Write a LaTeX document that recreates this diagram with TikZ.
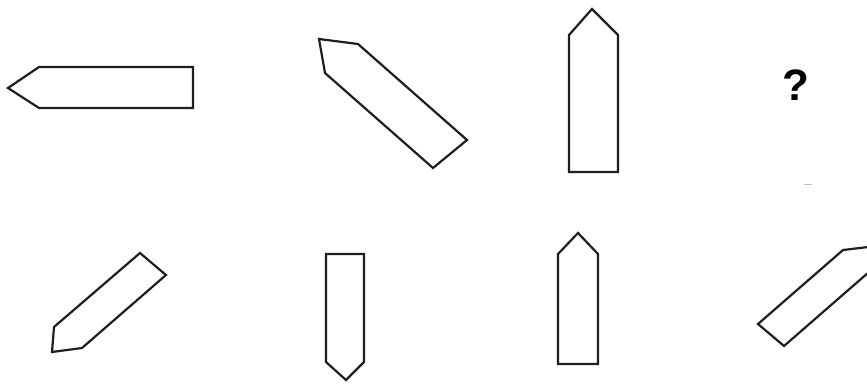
\documentclass[tikz,border=0pt]{standalone}
\usepackage{fontspec}
\setsansfont{Liberation Sans}
\usepackage{xcolor}
\usepackage{tikz}
\usetikzlibrary{positioning}
\definecolor{outline}{HTML}{1E1E1E}
\definecolor{specklegray}{HTML}{BDBDBD}

\begin{document}
\begin{tikzpicture}[x=1pt,y=-1pt,font=\sffamily,
  piece/.style={draw=outline,fill=white,line width=2.2pt,line join=miter}]

\useasboundingbox (0,0) rectangle (867,383);

% top row
\draw[piece] (8,88) -- (39,67) -- (193,67) -- (193,108) -- (39,108) -- cycle;
\draw[piece] (319,39) -- (358,44) -- (467,140) -- (433,168) -- (325,73) -- cycle;
\draw[piece] (592,9) -- (618,35) -- (618,172) -- (569,172) -- (569,35) -- cycle;
\node[font=\sffamily\bfseries\fontsize{44}{44}\selectfont,inner sep=0pt]
      (ask) at (796,85) {?};
\draw[specklegray,line width=1pt] (804,184) -- (812,184);

% bottom row
\draw[piece] (140,253) -- (166,275) -- (82,348) -- (52,352) -- (54,327) -- cycle;
\draw[piece] (326,254) -- (364,254) -- (364,362) -- (346,380) -- (326,362) -- cycle;
\draw[piece] (578,233) -- (598,254) -- (598,364) -- (558,364) -- (558,254) -- cycle;
\begin{scope}
  \clip (0,0) rectangle (867,383);
  \draw[piece] (758,324) -- (843,250) -- (885,245) -- (869,272) -- (784,346) -- cycle;
\end{scope}

\end{tikzpicture}
\end{document}
